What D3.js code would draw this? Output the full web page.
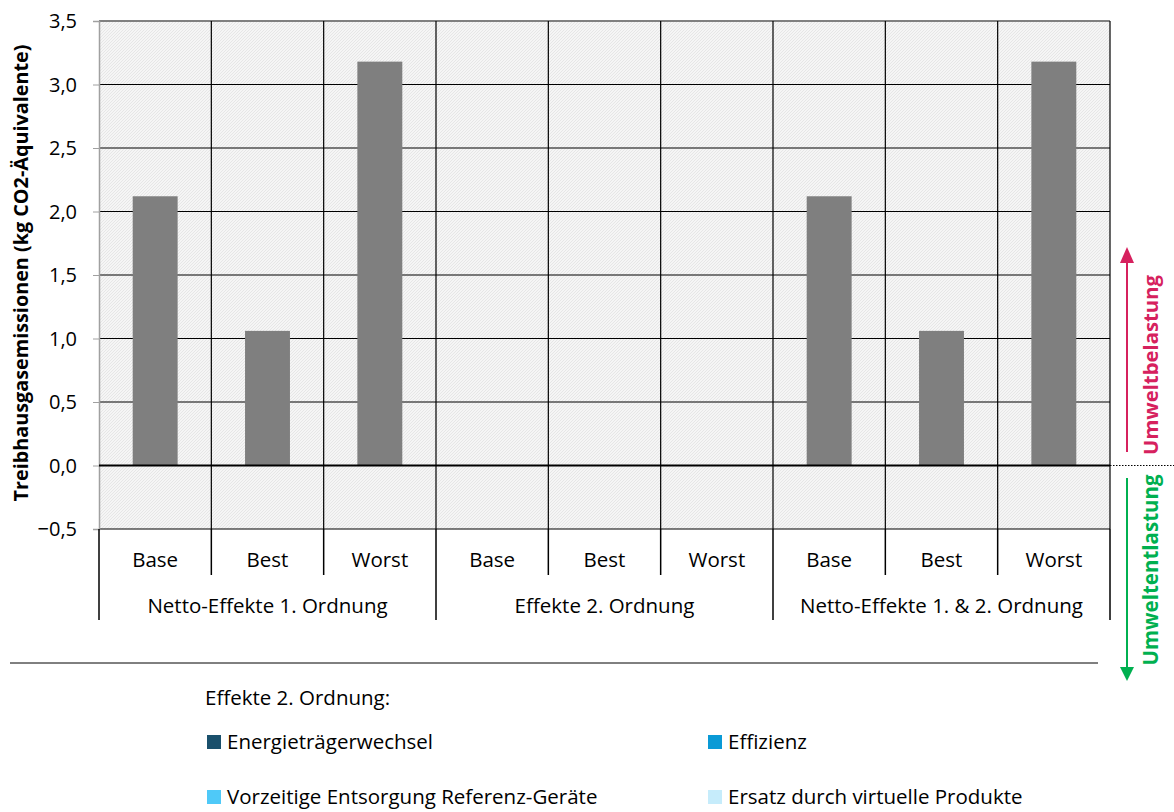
<!DOCTYPE html>
<html><head><meta charset="utf-8">
<script src="https://cdn.jsdelivr.net/npm/d3@7"></script>
<style>body{margin:0;background:#fff}svg{display:block}text{font-family:"Open Sans",Lato,sans-serif;}</style>
</head><body>
<svg id="c" width="1174" height="812"></svg>
<script>
const scenarios = ["Base","Best","Worst","Base","Best","Worst","Base","Best","Worst"];
const groups = ["Netto-Effekte 1. Ordnung","Effekte 2. Ordnung","Netto-Effekte 1. & 2. Ordnung"];
const netValues = [2.12,1.06,3.18,0,0,0,2.12,1.06,3.18];
const energietraeger = [0,0,0,0,0,0,0,0,0];
const effizienz = [0,0,0,0,0,0,0,0,0];
const vorzeitig = [0,0,0,0,0,0,0,0,0];
const ersatz = [0,0,0,0,0,0,0,0,0];
const yTicks = [-0.5,0,0.5,1,1.5,2,2.5,3,3.5];
const legendTitle = "Effekte 2. Ordnung:";
const legendItems = ["Energieträgerwechsel","Effizienz","Vorzeitige Entsorgung Referenz-Geräte","Ersatz durch virtuelle Produkte"];
const legendColors = ["#1a506c","#0a9ad6","#4fc9f8","#c6ecfb"];

const svg = d3.select("#c");
const L=99, R=1110, T=21, B=529;
const x = d3.scaleBand().domain(d3.range(9)).range([L,R]).paddingInner(0).paddingOuter(0);
const y = d3.scaleLinear().domain([-0.5,3.5]).range([B,T]);
const FS = 20.5;

const defs = svg.append("defs");
const pat = defs.append("pattern").attr("id","hatch").attr("patternUnits","userSpaceOnUse").attr("width",3).attr("height",3);
pat.append("rect").attr("width",3).attr("height",3).attr("fill","#f5f5f5");
pat.append("path").attr("d","M0,3 L3,0").attr("stroke","#e0e0e0").attr("stroke-width",0.7);
svg.append("rect").attr("x",L).attr("y",T).attr("width",R-L).attr("height",B-T).attr("fill","url(#hatch)");

// horizontal gridlines
svg.append("g").selectAll("line").data(yTicks).join("line")
  .attr("x1",L).attr("x2",R).attr("y1",d=>y(d)).attr("y2",d=>y(d))
  .attr("stroke",d=>d===3.5?"#808080":"#000").attr("stroke-width",d=>d===3.5?2:1.1);
// vertical category lines
svg.append("g").selectAll("line").data(d3.range(1,9)).join("line")
  .attr("x1",d=>x(d)).attr("x2",d=>x(d)).attr("y1",T).attr("y2",B)
  .attr("stroke","#000").attr("stroke-width",1.2);
svg.append("line").attr("x1",R).attr("x2",R).attr("y1",T).attr("y2",B).attr("stroke","#000").attr("stroke-width",1.2);

// y axis
const yAxis = svg.append("g").attr("transform",`translate(${L},0)`)
  .call(d3.axisLeft(y).tickValues(yTicks).tickSize(6).tickFormat(d=>d3.format(".1f")(d).replace(".",",")));
yAxis.select(".domain").attr("stroke","#a0a0a0").attr("stroke-width",1.5);
yAxis.selectAll(".tick line").attr("stroke","#a0a0a0");
yAxis.selectAll("text").attr("font-size",20).attr("fill","#000").attr("x",-22).attr("dy","0.34em");

// bars
const bw = x.bandwidth()*0.4;
svg.append("g").selectAll("rect").data(netValues).join("rect")
  .attr("x",(d,i)=>x(i)+(x.bandwidth()-bw)/2).attr("width",bw)
  .attr("y",d=>y(Math.max(0,d))).attr("height",d=>Math.abs(y(d)-y(0)))
  .attr("fill","#7f7f7f");
// stacked 2nd-order series (all zero)
[energietraeger,effizienz,vorzeitig,ersatz].forEach((s,k)=>{
  svg.append("g").selectAll("rect").data(s).join("rect")
    .attr("x",(d,i)=>x(i)+(x.bandwidth()-bw)/2).attr("width",bw)
    .attr("y",d=>y(Math.max(0,d))).attr("height",d=>Math.abs(y(d)-y(0)))
    .attr("fill",legendColors[k]);
});
// zero line
svg.append("line").attr("x1",L).attr("x2",R).attr("y1",y(0)).attr("y2",y(0)).attr("stroke","#000").attr("stroke-width",2.2);
svg.append("line").attr("x1",R).attr("x2",1174).attr("y1",y(0)).attr("y2",y(0)).attr("stroke","#000").attr("stroke-width",1).attr("stroke-dasharray","1.5,1.5");

// category axis
const cat = svg.append("g");
cat.selectAll("line.s").data(d3.range(0,10)).join("line")
  .attr("x1",d=>d===9?R:x(d)).attr("x2",d=>d===9?R:x(d)).attr("y1",B).attr("y2",d=>d%3===0?620:575)
  .attr("stroke","#000").attr("stroke-width",1.5);
cat.selectAll("text.sc").data(scenarios).join("text")
  .attr("x",(d,i)=>x(i)+x.bandwidth()/2).attr("y",567).attr("text-anchor","middle").attr("font-size",FS).text(d=>d);
cat.selectAll("text.g").data(groups).join("text")
  .attr("x",(d,i)=>(x(i*3)+ (i===2?R:x(i*3+3)))/2).attr("y",613).attr("text-anchor","middle").attr("font-size",FS).text(d=>d);

// y title
svg.append("text").attr("transform","translate(28,273) rotate(-90)").attr("text-anchor","middle")
  .attr("font-size",19.8).attr("font-weight","bold").text("Treibhausgasemissionen (kg CO2-Äquivalente)");

// separator line
svg.append("line").attr("x1",10).attr("x2",1098).attr("y1",663).attr("y2",663).attr("stroke","#000").attr("stroke-width",1);

// legend
svg.append("text").attr("x",205).attr("y",705).attr("font-size",FS).text(legendTitle);
const lg = svg.append("g").selectAll("g").data(legendItems).join("g")
  .attr("transform",(d,i)=>`translate(${i%2===0?207:708},${i<2?742:797})`);
lg.append("rect").attr("x",0).attr("y",-7).attr("width",14).attr("height",14).attr("fill",(d,i)=>legendColors[i]);
lg.append("text").attr("x",20).attr("y",7).attr("font-size",FS).text(d=>d);

// right arrows
const pink="#d6215e", green="#00b050";
svg.append("line").attr("x1",1127).attr("x2",1127).attr("y1",452).attr("y2",258).attr("stroke",pink).attr("stroke-width",2);
svg.append("path").attr("d","M1120,263 L1127,247 L1134,263 Z").attr("fill",pink);
svg.append("text").attr("transform","translate(1158,365) rotate(-90)").attr("text-anchor","middle")
  .attr("font-size",20.3).attr("font-weight","bold").attr("fill",pink).text("Umweltbelastung");
svg.append("line").attr("x1",1127).attr("x2",1127).attr("y1",478).attr("y2",670).attr("stroke",green).attr("stroke-width",2);
svg.append("path").attr("d","M1120,667 L1127,681 L1134,667 Z").attr("fill",green);
svg.append("text").attr("transform","translate(1158,570) rotate(-90)").attr("text-anchor","middle")
  .attr("font-size",20.5).attr("font-weight","bold").attr("fill",green).text("Umweltentlastung");
</script>
</body></html>
